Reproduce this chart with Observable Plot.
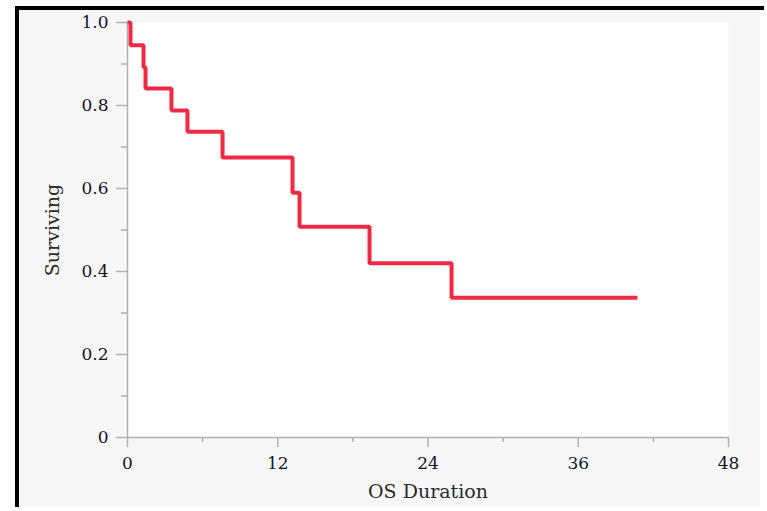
<!DOCTYPE html>
<html>
<head>
<meta charset="utf-8">
<script src="https://cdn.jsdelivr.net/npm/d3@7"></script>
<script src="https://cdn.jsdelivr.net/npm/@observablehq/plot@0.6"></script>
<style>
  html, body { margin: 0; padding: 0; background: #fff; width: 767px; height: 511px; overflow: hidden; }
  #topbar { position: absolute; left: 15px; top: 6px; width: 749px; height: 4px; background: #000; }
  #panel { position: absolute; left: 15px; top: 10px; width: 741px; height: 497px; background: #f7f7f7; border-left: 4px solid #000; }
  #chart { position: absolute; left: 0; top: 0; }
  #chart svg g[aria-label="x-axis label"], #chart svg g[aria-label="y-axis label"] { font-size: 19px; fill: #2a2a2a; }
</style>
</head>
<body>
<div id="topbar"></div>
<div id="panel"></div>
<div id="chart"></div>
<script>
// Kaplan-Meier step points (months, surviving fraction)
const times    = [0, 0.24, 1.28, 1.44, 3.51, 4.79, 7.59, 13.18, 13.74, 19.33, 25.88, 40.73];
const survival = [1.0, 0.945, 0.892, 0.841, 0.788, 0.737, 0.675, 0.59, 0.508, 0.42, 0.337, 0.337];

const xMajorTicks = [0, 12, 24, 36, 48];
const xMinorTicks = [6, 18, 30, 42];
const yMajorTicks = [0, 0.2, 0.4, 0.6, 0.8, 1.0];
const yMinorTicks = [0.1, 0.3, 0.5, 0.7, 0.9];

const data = times.map((t, i) => ({t, s: survival[i]}));
const axisColor = "#b0b0b0";
const textColor = "#141428";
const yFmt = d => d === 0 ? "0" : d.toFixed(1);

const chart = Plot.plot({
  width: 767,
  height: 511,
  marginLeft: 127,
  marginRight: 39,
  marginTop: 22,
  marginBottom: 74,
  style: { fontFamily: "DejaVu Serif", fontSize: "17px", background: "transparent", color: textColor, overflow: "visible" },
  x: { domain: [0, 48] },
  y: { domain: [0, 1] },
  marks: [
    Plot.frame({ fill: "white", stroke: null }),
    Plot.axisX(xMinorTicks, { tickSize: 5, tickFormat: () => "", stroke: axisColor, strokeWidth: 1.5, label: null }),
    Plot.axisX(xMajorTicks, { tickSize: 10, tickPadding: 9, stroke: axisColor, strokeWidth: 1.5, fill: textColor,
      label: "OS Duration", labelAnchor: "center", labelArrow: "none", labelOffset: 60 }),
    Plot.axisY(yMinorTicks, { tickSize: 6, tickFormat: () => "", stroke: axisColor, strokeWidth: 1.5, label: null }),
    Plot.axisY(yMajorTicks, { tickSize: 11, tickPadding: 8, tickFormat: yFmt, stroke: axisColor, strokeWidth: 1.5, fill: textColor,
      label: "Surviving", labelAnchor: "center", labelArrow: "none", labelOffset: 82 }),
    Plot.ruleY([0], { stroke: axisColor, strokeWidth: 1.5 }),
    Plot.ruleX([0], { stroke: axisColor, strokeWidth: 1.5 }),
    Plot.line(data, { x: "t", y: "s", curve: "step-after", stroke: "#ef2a44", strokeWidth: 4,
      strokeLinejoin: "miter", strokeLinecap: "butt" })
  ]
});
document.getElementById("chart").appendChild(chart);
</script>
</body>
</html>
